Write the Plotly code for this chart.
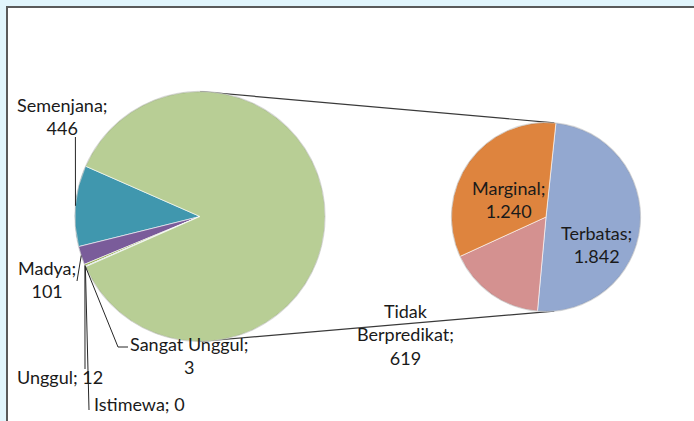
import numpy as np
import plotly.graph_objects as go

W, H = 694, 421

# ---------------- data ----------------
main_labels = ["Semenjana", "Madya", "Unggul", "Istimewa", "Sangat Unggul"]
main_values = [446, 101, 12, 0, 3]
sec_labels = ["Terbatas", "Tidak Berpredikat", "Marginal"]
sec_values = [1842, 619, 1240]
other_label = "Lainnya"

# ---------------- style ----------------
main_colors = ["#4097AE", "#7A5C9A", "#9DB25E", "#C0504D", "#4F81BD", "#B8CE95"]
sec_colors = ["#93A8D0", "#D49190", "#DE843E"]
FONT = "Lato"
FS = 18
TXT = "#1A1A1A"

MAIN_C, MAIN_R = (200.0, 216.5), 125.0
SEC_C, SEC_R = (546.0, 217.0), 94.5
SEC_ROT = 6


def fmt(v):
    return f"{v:,}".replace(",", ".")


def px(x):
    return x / W


def py(y):
    return 1 - y / H


def dom(c, r):
    return dict(x=[px(c[0] - r), px(c[0] + r)], y=[py(c[1] + r), py(c[1] - r)])


def on_circle(c, r, deg):
    a = np.deg2rad(deg)
    return (c[0] + r * np.cos(a), c[1] - r * np.sin(a))


other_value = sum(sec_values)
all_main_values = main_values + [other_value]
total = sum(all_main_values)
frac_other = other_value / total
a0 = 180 * frac_other  # math angle where the small slices start (CCW)
deg = [360 * v / total for v in main_values]
starts = a0 + np.concatenate([[0], np.cumsum(deg)[:-1]])
mids = starts + np.array(deg) / 2

rotation = (90 - a0) - deg[0]

fig = go.Figure()
fig.add_trace(go.Pie(
    labels=main_labels + [other_label], values=all_main_values,
    sort=False, direction="counterclockwise", rotation=rotation,
    domain=dom(MAIN_C, MAIN_R), textinfo="none", hoverinfo="skip",
    marker=dict(colors=main_colors, line=dict(color="rgba(255,255,255,0.6)", width=1)),
    showlegend=False,
))
fig.add_trace(go.Pie(
    labels=sec_labels, values=sec_values,
    sort=False, direction="clockwise", rotation=SEC_ROT,
    domain=dom(SEC_C, SEC_R), textinfo="none", hoverinfo="skip",
    marker=dict(colors=sec_colors, line=dict(color="rgba(255,255,255,0.6)", width=1)),
    showlegend=False,
))

shapes = []
# chart area (white panel with dark top/left border)
shapes.append(dict(type="rect", xref="paper", yref="paper", layer="below",
                   x0=px(7), x1=px(W + 20), y0=py(H + 20), y1=py(7),
                   fillcolor="white", line=dict(color="#5A5A5A", width=2)))

# series lines connecting the pies
for sgn in (1, -1):
    p1 = on_circle(MAIN_C, MAIN_R, 90 * sgn)
    p2 = on_circle(SEC_C, SEC_R, 85 * sgn)
    shapes.append(dict(type="line", xref="paper", yref="paper", layer="below",
                       x0=px(p1[0]), y0=py(p1[1]), x1=px(p2[0]), y1=py(p2[1]),
                       line=dict(color="#3A3A3A", width=1.2)))

# subtle darker rim
for c, r in ((MAIN_C, MAIN_R), (SEC_C, SEC_R)):
    shapes.append(dict(type="circle", xref="paper", yref="paper", layer="above",
                       x0=px(c[0] - r), x1=px(c[0] + r), y0=py(c[1] + r), y1=py(c[1] - r),
                       line=dict(color="rgba(40,40,40,0.16)", width=1.3)))

# leader lines for the small slices (label-side points)
leader_ends = {
    "Semenjana": [(75.4, 137)],
    "Madya": [(77, 281)],
    "Unggul": [(85, 369)],
    "Istimewa": [(89, 410)],
    "Sangat Unggul": [(118, 347), (128, 347)],
}
for lab, m in zip(main_labels, mids):
    pts = [on_circle(MAIN_C, MAIN_R, m)] + leader_ends[lab]
    for (xa, ya), (xb, yb) in zip(pts[:-1], pts[1:]):
        shapes.append(dict(type="line", xref="paper", yref="paper", layer="above",
                           x0=px(xa), y0=py(ya), x1=px(xb), y1=py(yb),
                           line=dict(color="#262626", width=1)))

# data labels (text positions in pixels)
label_pos = {
    "Semenjana": (62, 116, "{l};<br>{v}"),
    "Madya": (47, 279, "{l};<br>{v}"),
    "Unggul": (59.5, 377, "{l}; {v}"),
    "Istimewa": (139, 404, "{l}; {v}"),
    "Sangat Unggul": (189, 355, "{l};<br>{v}"),
    "Terbatas": (596, 244, "{l};<br>{v}"),
    "Tidak Berpredikat": (405, 334, "{l};<br>{v}"),
    "Marginal": (508, 199, "{l};<br>{v}"),
}
annotations = []
for lab, v in list(zip(main_labels, main_values)) + list(zip(sec_labels, sec_values)):
    x, y, tpl = label_pos[lab]
    l = lab.replace(" ", "<br>") if lab == "Tidak Berpredikat" else lab
    annotations.append(dict(x=px(x), y=py(y), xref="paper", yref="paper",
                            text=tpl.format(l=l, v=fmt(v)), showarrow=False,
                            xanchor="center", yanchor="middle", align="center",
                            font=dict(family=FONT, size=FS, color=TXT)))

fig.update_layout(
    width=W, height=H, margin=dict(l=0, r=0, t=0, b=0),
    paper_bgcolor="#E1F5FC", plot_bgcolor="white",
    shapes=shapes, annotations=annotations, showlegend=False,
)
fig.write_html("out.html", config={"displayModeBar": False})
